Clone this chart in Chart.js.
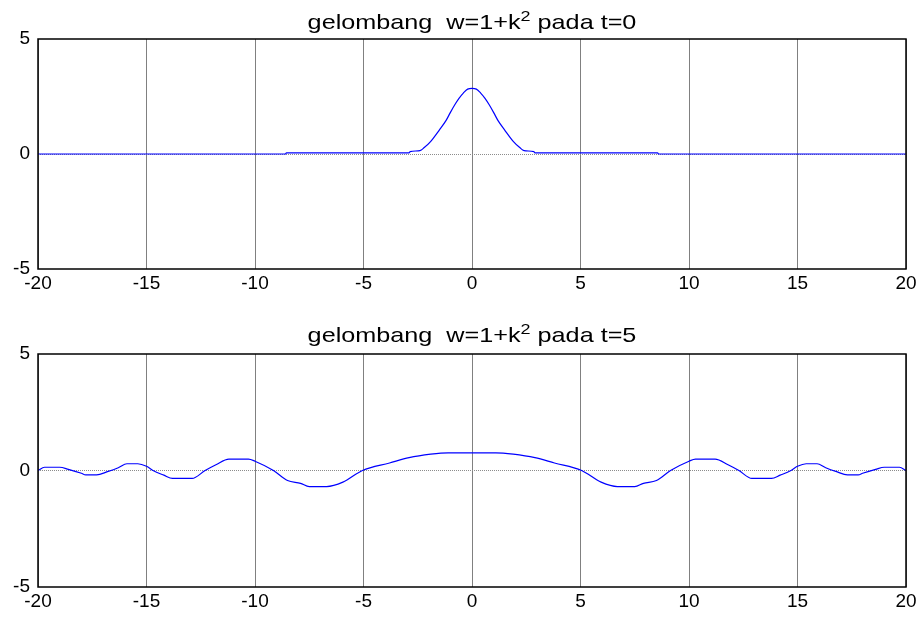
<!DOCTYPE html>
<html>
<head>
<meta charset="utf-8">
<script src="https://cdn.jsdelivr.net/npm/chart.js@4/dist/chart.umd.min.js"></script>
<style>
  body { margin: 0; background: #fff; }
  .box { position: absolute; left: 0; width: 924px; }
</style>
</head>
<body>
<div class="box" style="top:0;height:300px"><canvas id="topChart"></canvas></div>
<div class="box" style="top:310px;height:307px"><canvas id="bottomChart"></canvas></div>
<script>
// Tick values for both plots
const xTicks = [-20, -15, -10, -5, 0, 5, 10, 15, 20];
const yTicks = [-5, 0, 5];

// Wave at t=0
const xTop = [-20, -8.6, -8.55, -2.9, -2.85, -2.4, -2.2, -1.9, -1.5, -1.2, -1.0, -0.8, -0.6, -0.4, -0.2, 0,
  0.2, 0.4, 0.6, 0.8, 1.0, 1.2, 1.5, 1.9, 2.2, 2.4, 2.85, 2.9, 8.55, 8.6, 20];
const yTop = [0, 0, 0.05, 0.05, 0.1, 0.15, 0.28, 0.55, 1.05, 1.45, 1.8, 2.13, 2.42, 2.65, 2.82, 2.85,
  2.82, 2.65, 2.42, 2.13, 1.8, 1.45, 1.05, 0.55, 0.28, 0.15, 0.1, 0.05, 0.05, 0, 0];

// Wave at t=5
const xBottom = [-20, -19.7, -19.0, -18.6, -18.0, -17.8, -17.3, -16.8, -16.3, -15.9, -15.4,
  -15.0, -14.7, -14.2, -13.8, -12.9, -12.3, -11.8, -11.2, -10.3, -10.0, -9.15, -8.5,
  -7.9, -7.5, -6.7, -5.95, -5.05, -3.8, -2.9, -1.9, -1.1,
  1.1, 1.9, 2.9, 3.8, 5.05, 5.95, 6.7, 7.5, 7.9, 8.5, 9.15, 10.0, 10.3, 11.2, 11.8,
  12.3, 12.9, 13.8, 14.2, 14.7, 15.0, 15.4, 15.9, 16.3, 16.8, 17.3, 17.8, 18.0, 18.6,
  19.0, 19.7, 20];
const yBottom = [0, 0.14, 0.14, 0.05, -0.12, -0.19, -0.19, -0.05, 0.12, 0.29, 0.29,
  0.18, 0, -0.2, -0.34, -0.34, 0, 0.25, 0.49, 0.49, 0.4, 0, -0.43,
  -0.55, -0.69, -0.69, -0.5, 0, 0.32, 0.55, 0.7, 0.76,
  0.76, 0.7, 0.55, 0.32, 0, -0.5, -0.69, -0.69, -0.55, -0.43, 0, 0.4, 0.49, 0.49, 0.25,
  0, -0.34, -0.34, -0.2, 0, 0.18, 0.29, 0.29, 0.12, -0.05, -0.19, -0.19, -0.12, 0.05,
  0.14, 0.14, 0];

const fontName = '"Liberation Sans", Arial, sans-serif';

// Draws the title with a superscript 2 and the black box round the plot
const plotFrame = {
  id: "plotFrame",
  afterDraw(chart, args, opts) {
    const ctx = chart.ctx;
    const a = chart.chartArea;
    ctx.save();
    ctx.strokeStyle = "#000";
    ctx.lineWidth = 1.5;
    ctx.strokeRect(a.left, a.top, a.right - a.left, a.bottom - a.top);

    const big = "21px " + fontName;
    const small = "15px " + fontName;
    const parts = [[opts.before, big, 0], ["2", small, -8], [opts.after, big, 0]];
    const stretch = 1.2;
    let w = 0;
    parts.forEach((p) => {
      ctx.font = p[1];
      w += ctx.measureText(p[0]).width;
    });
    const cx = (a.left + a.right) / 2;
    ctx.translate(cx, opts.y);
    ctx.scale(stretch, 1);
    let x = -w / 2;
    ctx.fillStyle = "#000";
    ctx.textBaseline = "alphabetic";
    parts.forEach((p) => {
      ctx.font = p[1];
      ctx.fillText(p[0], x, p[2]);
      x += ctx.measureText(p[0]).width;
    });
    ctx.restore();
  },
};

function makeChart(id, xs, ys, tValue, top, bottom, titleY) {
  const points = xs.map((x, i) => ({ x: x, y: ys[i] }));
  return new Chart(id, {
    type: "line",
    data: {
      datasets: [
        {
          data: points,
          borderColor: "#0000ff",
          borderWidth: 1.2,
          pointRadius: 0,
          fill: false,
          cubicInterpolationMode: "monotone",
        },
      ],
    },
    options: {
      animation: false,
      responsive: true,
      maintainAspectRatio: false,
      layout: { padding: { left: 0, right: 18, top: top, bottom: bottom } },
      plugins: {
        legend: { display: false },
        tooltip: { enabled: false },
        plotFrame: { before: "gelombang  w=1+k", after: " pada t=" + tValue, y: titleY },
      },
      scales: {
        x: {
          type: "linear",
          min: -20,
          max: 20,
          afterBuildTicks: (scale) => {
            scale.ticks = xTicks.map((v) => ({ value: v }));
          },
          afterFit: (scale) => {
            scale.height = 30;
          },
          grid: { color: "#808080", lineWidth: 1, drawTicks: false },
          border: { display: false },
          ticks: { color: "#000", padding: 3, maxRotation: 0, font: { family: fontName, size: 19 } },
        },
        y: {
          min: -5,
          max: 5,
          afterBuildTicks: (scale) => {
            scale.ticks = yTicks.map((v) => ({ value: v }));
          },
          afterFit: (scale) => {
            scale.width = 38;
          },
          grid: {
            color: (c) => (c.tick && c.tick.value === 0 ? "#8c8c8c" : "rgba(0,0,0,0)"),
            lineWidth: 1,
            drawTicks: false,
          },
          border: { display: false, dash: [1, 1] },
          ticks: { color: "#000", padding: 8, font: { family: fontName, size: 19 } },
        },
      },
    },
    plugins: [plotFrame],
  });
}

makeChart("topChart", xTop, yTop, "0", 39, 1, 29);
makeChart("bottomChart", xBottom, yBottom, "5", 44, 0, 32);
</script>
</body>
</html>
